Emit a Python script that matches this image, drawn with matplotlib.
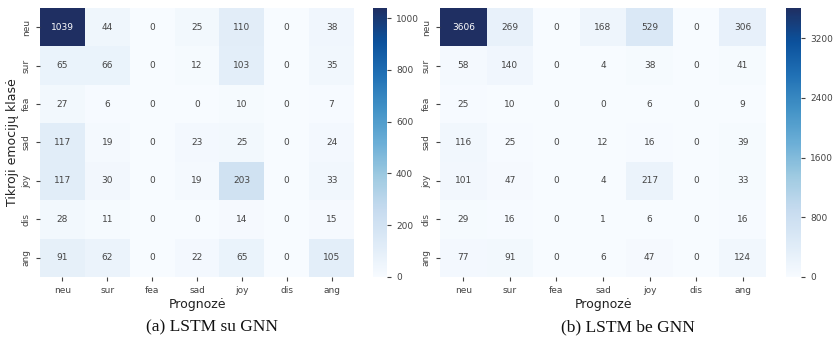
import matplotlib
matplotlib.use("Agg")
import matplotlib.pyplot as plt
from matplotlib.colors import LinearSegmentedColormap
import numpy as np
import seaborn as sns

labels = ["neu", "sur", "fea", "sad", "joy", "dis", "ang"]

# (a) LSTM su GNN
cm_gnn = [
    [1039, 44, 0, 25, 110, 0, 38],
    [65, 66, 0, 12, 103, 0, 35],
    [27, 6, 0, 0, 10, 0, 7],
    [117, 19, 0, 23, 25, 0, 24],
    [117, 30, 0, 19, 203, 0, 33],
    [28, 11, 0, 0, 14, 0, 15],
    [91, 62, 0, 22, 65, 0, 105],
]

# (b) LSTM be GNN
cm_no_gnn = [
    [3606, 269, 0, 168, 529, 0, 306],
    [58, 140, 0, 4, 38, 0, 41],
    [25, 10, 0, 0, 6, 0, 9],
    [116, 25, 0, 12, 16, 0, 39],
    [101, 47, 0, 4, 217, 0, 33],
    [29, 16, 0, 1, 6, 0, 16],
    [77, 91, 0, 6, 47, 0, 124],
]

cbar_ticks_gnn = [0, 200, 400, 600, 800, 1000]
cbar_ticks_no_gnn = [0, 800, 1600, 2400, 3200]

captions = ["(a) LSTM su GNN", "(b) LSTM be GNN"]

# Blues, but the dark end is a bit greyer navy in the reference
blues = ["#f7fbff", "#deebf7", "#c6dbef", "#9ecae1", "#6baed6",
         "#4292c6", "#2171b5", "#0b519c", "#1f2f62"]
cmap = LinearSegmentedColormap.from_list("blues_ref", blues)

W, H = 833, 339
fig = plt.figure(figsize=(W / 100, H / 100), dpi=100)

def box(x0, y0, x1, y1):
    return [x0 / W, 1 - y1 / H, (x1 - x0) / W, (y1 - y0) / H]

panels = [
    (cm_gnn, cbar_ticks_gnn, box(40, 8, 354, 277), box(373, 8, 387, 277), 212, True),
    (cm_no_gnn, cbar_ticks_no_gnn, box(440, 8, 766, 277), box(786, 8, 801, 277), 628, False),
]

txt = "#444444"
for i, (cm, cticks, axpos, cpos, xc, ylab) in enumerate(panels):
    ax = fig.add_axes(axpos)
    cax = fig.add_axes(cpos)
    sns.heatmap(np.array(cm), annot=True, fmt="d", cmap=cmap, ax=ax, cbar_ax=cax,
                xticklabels=labels, yticklabels=labels,
                annot_kws={"fontsize": 6.5})
    for t in ax.texts:
        if t.get_color() != "w" and t.get_color() != "white":
            t.set_color(txt)
    ax.tick_params(axis="both", labelsize=6.5, colors=txt, length=3, width=0.8)
    plt.setp(ax.get_yticklabels(), rotation=90, va="center")
    ax.set_xlabel("Prognozė", fontsize=9, color="#222222", labelpad=2)
    if ylab:
        ax.set_ylabel("Tikroji emocijų klasė", fontsize=9, color="#222222", labelpad=2)
    cax.set_yticks(cticks)
    cax.tick_params(labelsize=6.5, colors=txt, length=3, width=0.8)
    fig.text(xc / W, 1 - 327 / H, captions[i],
             family="Liberation Serif", fontsize=12.5, ha="center", va="center",
             color="#111111")

fig.savefig("out.png", dpi=100)
